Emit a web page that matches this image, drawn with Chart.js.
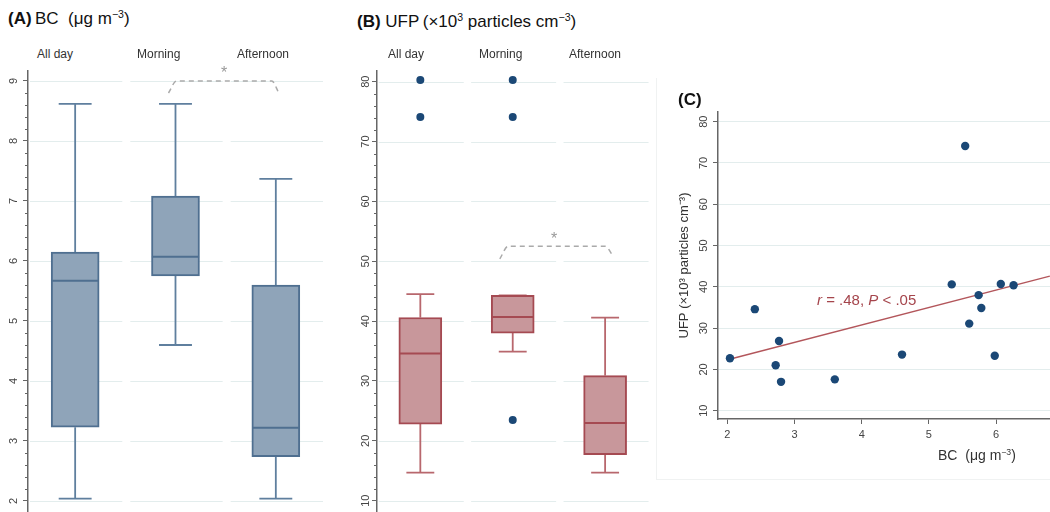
<!DOCTYPE html>
<html lang="en">

<head>
    <meta charset="UTF-8">
    <title>BC and UFP by period</title>
    <script src="https://cdn.jsdelivr.net/npm/chart.js@4.4.0/dist/chart.umd.min.js"></script>
    <style>
        body { margin: 0; width: 1050px; height: 512px; overflow: hidden; background: #fff; position: relative;
               font-family: "Liberation Sans", Arial, sans-serif; color: #222; }
        canvas, .txt { position: absolute; }
        .txt { white-space: nowrap; line-height: 1; z-index: 2; }
        .title { font-size: 17px; color: #111; }
        .cat { font-size: 12px; color: #333; }
        .star { font-size: 16px; color: #999; }
        sup { font-size: 0.62em; vertical-align: 0.55em; line-height: 0; }
        #frameC { position: absolute; left: 656px; top: 78px; width: 394px; height: 401px;
                  border-left: 1px solid #f0f2f2; border-bottom: 1px solid #f0f2f2; }
    </style>
</head>

<body>
    <div class="txt title" style="left:8px; top:10px;"><b>(A)</b>&thinsp;BC&nbsp; (μg m<sup>−3</sup>)</div>
    <div class="txt title" style="left:357px; top:13px;"><b>(B)</b> UFP&thinsp;(×10<sup>3</sup> particles cm<sup>−3</sup>)</div>

    <div class="txt cat" style="left:37px; top:48px;">All day</div>
    <div class="txt cat" style="left:137px; top:48px;">Morning</div>
    <div class="txt cat" style="left:237px; top:48px;">Afternoon</div>
    <div class="txt cat" style="left:388px; top:48px;">All day</div>
    <div class="txt cat" style="left:479px; top:48px;">Morning</div>
    <div class="txt cat" style="left:569px; top:48px;">Afternoon</div>

    <div class="txt star" style="left:221px; top:65px;">*</div>
    <div class="txt star" style="left:551px; top:231px;">*</div>

    <div id="frameC"></div>
    <div class="txt title" style="left:678px; top:91px;"><b>(C)</b></div>
    <div class="txt" style="left:938px; top:448px; font-size:14px; color:#333;">BC&nbsp; (μg m<sup>−3</sup>)</div>
    <div class="txt" style="left:817px; top:292px; font-size:15px; color:#a5454c;"><i>r</i> = .48, <i>P</i> &lt; .05</div>

    <canvas id="chartA" width="330" height="443" style="left:0px; top:70px;"></canvas>
    <canvas id="chartB" width="300" height="443" style="left:349px; top:70px;"></canvas>
    <canvas id="chartC" width="390" height="380" style="left:660px; top:100px;"></canvas>

    <script>
        const categories = ['All day', 'Morning', 'Afternoon'];

        // (A) BC, µg m-3 : whisker low, quartiles, median, whisker high
        const bcLow    = [2.04, 4.60, 2.04];
        const bcQ1     = [3.23, 5.75, 2.74];
        const bcMedian = [5.67, 6.07, 3.22];
        const bcQ3     = [6.15, 7.08, 5.60];
        const bcHigh   = [8.62, 8.62, 7.37];

        // (B) UFP, x10^3 particles cm-3
        const ufpLow    = [14.7, 34.9, 14.7];
        const ufpQ1     = [22.8, 38.0, 17.7];
        const ufpMedian = [34.6, 40.7, 23.0];
        const ufpQ3     = [40.6, 44.3, 30.9];
        const ufpHigh   = [44.5, 44.3, 40.6];
        const ufpOutliers = [[74.1, 80.3], [23.5, 74.1, 80.3], []];

        // significance brackets, morning vs afternoon (x = category index)
        const bracketAX = [0.93, 1.01, 1.96, 2.03];
        const bracketAY = [8.8, 9.0, 9.0, 8.8];
        const bracketBX = [0.86, 0.95, 2.0, 2.09];
        const bracketBY = [50.4, 52.5, 52.5, 50.8];

        // (C) BC vs UFP
        const scatterBC  = [2.04, 2.41, 2.77, 2.72, 2.80, 3.60, 4.60, 5.34, 5.54, 5.60, 5.74, 5.78, 5.98, 6.07, 6.26];
        const scatterUFP = [22.7, 34.6, 26.9, 21.0, 17.0, 17.6, 23.6, 40.6, 74.1, 31.1, 38.0, 34.9, 23.3, 40.7, 40.4];
        const fitBC  = [1.99, 6.8];
        const fitUFP = [22.3, 42.6];

        const axisColor = '#666';
        const gridColor = '#e3eded';
        const tickFont = { family: 'Liberation Sans', size: 11 };

        // grid lines split per category + minor ticks on the y axis
        const boxGrid = {
            id: 'boxGrid',
            beforeDatasetsDraw(chart, args, opts) {
                if (!opts.on) return;
                const { ctx, scales: { x, y } } = chart;
                ctx.save();
                ctx.strokeStyle = gridColor;
                ctx.lineWidth = 1;
                y.ticks.forEach(t => {
                    const py = Math.round(y.getPixelForValue(t.value)) + 0.5;
                    categories.forEach((c, i) => {
                        ctx.beginPath();
                        ctx.moveTo(x.getPixelForValue(i - 0.45), py);
                        ctx.lineTo(x.getPixelForValue(i + 0.47), py);
                        ctx.stroke();
                    });
                });
                ctx.restore();
            },
            afterDraw(chart, args, opts) {
                if (!opts.on) return;
                const { ctx, chartArea, scales: { y } } = chart;
                ctx.save();
                ctx.strokeStyle = axisColor;
                ctx.lineWidth = 1;
                const start = Math.ceil(y.min / opts.minor);
                for (let k = start; k * opts.minor <= y.max; k++) {
                    const v = k * opts.minor;
                    if (Math.abs(v / opts.major - Math.round(v / opts.major)) < 1e-6) continue;
                    const py = Math.round(y.getPixelForValue(v)) + 0.5;
                    ctx.beginPath();
                    ctx.moveTo(chartArea.left - 3, py);
                    ctx.lineTo(chartArea.left, py);
                    ctx.stroke();
                }
                ctx.restore();
            }
        };

        // ticks only on whole steps inside the axis range
        function stepTicks(step) {
            return s => {
                const out = [];
                for (let k = Math.ceil(s.min / step - 1e-9); k * step <= s.max + 1e-9; k++) {
                    out.push({ value: +(k * step).toFixed(6) });
                }
                s.ticks = out;
            };
        }

        function boxChart(id, o) {
            const boxes = [], whiskers = [], caps = [], medians = [], dots = [], bracket = [];
            categories.forEach((c, i) => {
                boxes.push({ x: i, y: [o.q1[i], o.q3[i]] });
                whiskers.push({ x: i, y: o.q3[i] }, { x: i, y: o.high[i] }, { x: i, y: null },
                              { x: i, y: o.low[i] }, { x: i, y: o.q1[i] }, { x: i, y: null });
                caps.push({ x: i - o.cap, y: o.high[i] }, { x: i + o.cap, y: o.high[i] }, { x: i, y: null },
                          { x: i - o.cap, y: o.low[i] }, { x: i + o.cap, y: o.low[i] }, { x: i, y: null });
                medians.push({ x: i - o.half, y: o.median[i] }, { x: i + o.half, y: o.median[i] }, { x: i, y: null });
                (o.outliers ? o.outliers[i] : []).forEach(v => dots.push({ x: i, y: v }));
            });
            o.bx.forEach((v, k) => bracket.push({ x: v, y: o.by[k] }));

            const lineBase = { type: 'line', pointRadius: 0, tension: 0, spanGaps: false, fill: false };

            return new Chart(document.getElementById(id), {
                type: 'bar',
                data: {
                    datasets: [
                        { type: 'scatter', data: dots, backgroundColor: '#1b4876', pointRadius: 4, borderWidth: 0, order: 0 },
                        Object.assign({ data: medians, borderColor: o.edge, borderWidth: 2, order: 1 }, lineBase),
                        { data: boxes, backgroundColor: o.fill, borderColor: o.edge, borderWidth: 2,
                          borderSkipped: false, barThickness: o.boxPx, order: 2 },
                        Object.assign({ data: whiskers, borderColor: o.whisk, borderWidth: 1.8, order: 3 }, lineBase),
                        Object.assign({ data: caps, borderColor: o.whisk, borderWidth: 1.8, order: 3 }, lineBase),
                        Object.assign({ data: bracket, borderColor: '#aaa', borderWidth: 1.5, borderDash: [5, 4],
                                        cubicInterpolationMode: 'monotone', order: 4 }, lineBase)
                    ]
                },
                options: {
                    responsive: false,
                    animation: false,
                    events: [],
                    layout: { padding: 0, autoPadding: false },
                    plugins: {
                        legend: { display: false },
                        tooltip: { enabled: false },
                        boxGrid: { on: true, minor: o.minor, major: o.step }
                    },
                    scales: {
                        x: { type: 'linear', display: false, offset: false, min: o.xMin, max: o.xMax },
                        y: {
                            min: o.yMin, max: o.yMax,
                            afterBuildTicks: stepTicks(o.step),
                            afterFit: s => { s.width = 28; s.paddingTop = 0; s.paddingBottom = 0; },
                            border: { color: axisColor, width: 1.5 },
                            grid: { drawOnChartArea: false, tickLength: 5, tickColor: axisColor },
                            ticks: { minRotation: 90, maxRotation: 90, crossAlign: 'center',
                                     padding: o.pad, color: '#444', font: tickFont }
                        }
                    }
                },
                plugins: [boxGrid]
            });
        }

        boxChart('chartA', {
            low: bcLow, q1: bcQ1, median: bcMedian, q3: bcQ3, high: bcHigh,
            bx: bracketAX, by: bracketAY,
            fill: '#8fa4b9', edge: '#4f6f90', whisk: '#5f7f9e',
            boxPx: 48, half: 0.235, cap: 0.164,
            xMin: -0.47, xMax: 2.54, yMin: 1.8, yMax: 9.183,
            step: 1, minor: 0.2, pad: 6
        });

        boxChart('chartB', {
            low: ufpLow, q1: ufpQ1, median: ufpMedian, q3: ufpQ3, high: ufpHigh, outliers: ufpOutliers,
            bx: bracketBX, by: bracketBY,
            fill: '#c8979b', edge: '#a54a52', whisk: '#b8676d',
            boxPx: 43, half: 0.228, cap: 0.151,
            xMin: -0.469, xMax: 2.475, yMin: 7.95, yMax: 81.95,
            step: 10, minor: 2, pad: 0
        });

        new Chart(document.getElementById('chartC'), {
            type: 'scatter',
            data: {
                datasets: [
                    { data: scatterBC.map((x, i) => ({ x: x, y: scatterUFP[i] })),
                      backgroundColor: '#1b4876', pointRadius: 4.2, borderWidth: 0, order: 0 },
                    { type: 'line', data: fitBC.map((x, i) => ({ x: x, y: fitUFP[i] })),
                      borderColor: '#b3565b', borderWidth: 1.5, pointRadius: 0, fill: false, order: 1 }
                ]
            },
            options: {
                responsive: false,
                animation: false,
                events: [],
                layout: { padding: { top: 12, left: 0, right: 0, bottom: 0 }, autoPadding: false },
                plugins: { legend: { display: false }, tooltip: { enabled: false } },
                scales: {
                    x: {
                        type: 'linear', min: 1.862, max: 6.802,
                        afterBuildTicks: stepTicks(1),
                        afterFit: s => { s.height = 61; s.paddingLeft = 0; s.paddingRight = 0; },
                        border: { color: axisColor, width: 1.5 },
                        grid: { drawOnChartArea: false, tickLength: 5, tickColor: axisColor },
                        ticks: { padding: 4, color: '#444', font: tickFont }
                    },
                    y: {
                        min: 8, max: 82.35,
                        afterBuildTicks: stepTicks(10),
                        afterFit: s => { s.width = 58; s.paddingTop = 0; s.paddingBottom = 0; },
                        border: { color: axisColor, width: 1.5 },
                        grid: { color: gridColor, tickLength: 5, tickColor: axisColor },
                        ticks: { minRotation: 90, maxRotation: 90, crossAlign: 'center',
                                 padding: 3, color: '#444', font: tickFont },
                        title: { display: true, text: 'UFP (×10³ particles cm⁻³)', color: '#333',
                                 padding: { top: 17, bottom: 0 }, font: { family: 'Liberation Sans', size: 13 } }
                    }
                }
            }
        });
    </script>
</body>

</html>
